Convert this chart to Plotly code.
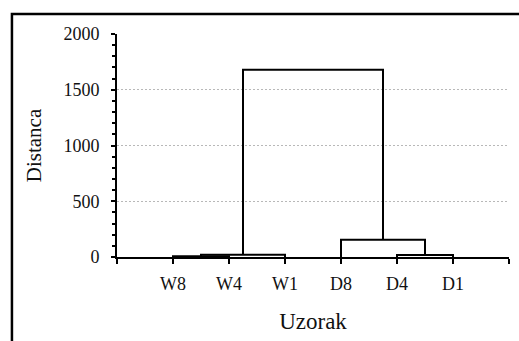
import plotly.graph_objects as go

# Leaf order along the horizontal axis
samples = ["W8", "W4", "W1", "D8", "D4", "D1"]

# Agglomeration steps: (left cluster, right cluster, merge distance)
merge_left = ["W8", "W8+W4", "D4", "D8", "W8+W4+W1"]
merge_right = ["W4", "W1", "D1", "D4+D1", "D8+D4+D1"]
merge_height = [6, 20, 18, 155, 1680]

y_ticks = [0, 500, 1000, 1500, 2000]

# Leaf positions 1..n, cluster positions/heights computed from merges
pos = {s: i + 1 for i, s in enumerate(samples)}
hgt = {s: 0.0 for s in samples}

fig = go.Figure()
for a, b, h in zip(merge_left, merge_right, merge_height):
    xa, xb = pos[a], pos[b]
    fig.add_trace(go.Scatter(
        x=[xa, xa, xb, xb],
        y=[hgt[a], h, h, hgt[b]],
        mode="lines",
        line=dict(color="black", width=2),
        hoverinfo="skip",
        showlegend=False,
    ))
    name = a + "+" + b
    pos[name] = (xa + xb) / 2
    hgt[name] = h

font_family = "'Liberation Serif', 'Times New Roman', serif"

fig.update_layout(
    width=519,
    height=341,
    margin=dict(l=117, r=10, t=34, b=84),
    paper_bgcolor="white",
    plot_bgcolor="white",
    font=dict(family=font_family, size=18, color="#111111"),
    xaxis=dict(
        range=[0, len(samples) + 1],
        tickvals=list(range(0, len(samples) + 2)),
        ticktext=[""] + samples + [""],
        ticks="outside",
        ticklen=5,
        tickwidth=2,
        tickcolor="black",
        showline=True,
        linecolor="black",
        linewidth=2,
        showgrid=False,
        zeroline=False,
        ticklabelstandoff=4,
        tickfont=dict(family=font_family, size=18),
        title=dict(text="Uzorak", font=dict(family=font_family, size=23), standoff=20),
        fixedrange=True,
    ),
    yaxis=dict(
        range=[0, 2000],
        tickvals=y_ticks,
        ticks="outside",
        ticklen=4,
        tickwidth=2,
        tickcolor="black",
        showline=True,
        linecolor="black",
        linewidth=2,
        showgrid=True,
        gridcolor="#b8b8b8",
        griddash="2px,2px",
        gridwidth=1,
        zeroline=False,
        ticklabelstandoff=8,
        tickfont=dict(family=font_family, size=18),
        minor=dict(dtick=100, ticks="outside", ticklen=3, tickwidth=1.5,
                   tickcolor="black", showgrid=False),
        title=dict(text="Distanca", font=dict(family=font_family, size=21), standoff=16),
        fixedrange=True,
    ),
    shapes=[dict(
        type="rect", xref="paper", yref="paper",
        x0=-0.268, x1=1.2, y0=-0.6, y1=1.09,
        line=dict(color="black", width=2.5),
        fillcolor="rgba(0,0,0,0)",
        layer="below",
    )],
)

fig.write_html("out.html")
